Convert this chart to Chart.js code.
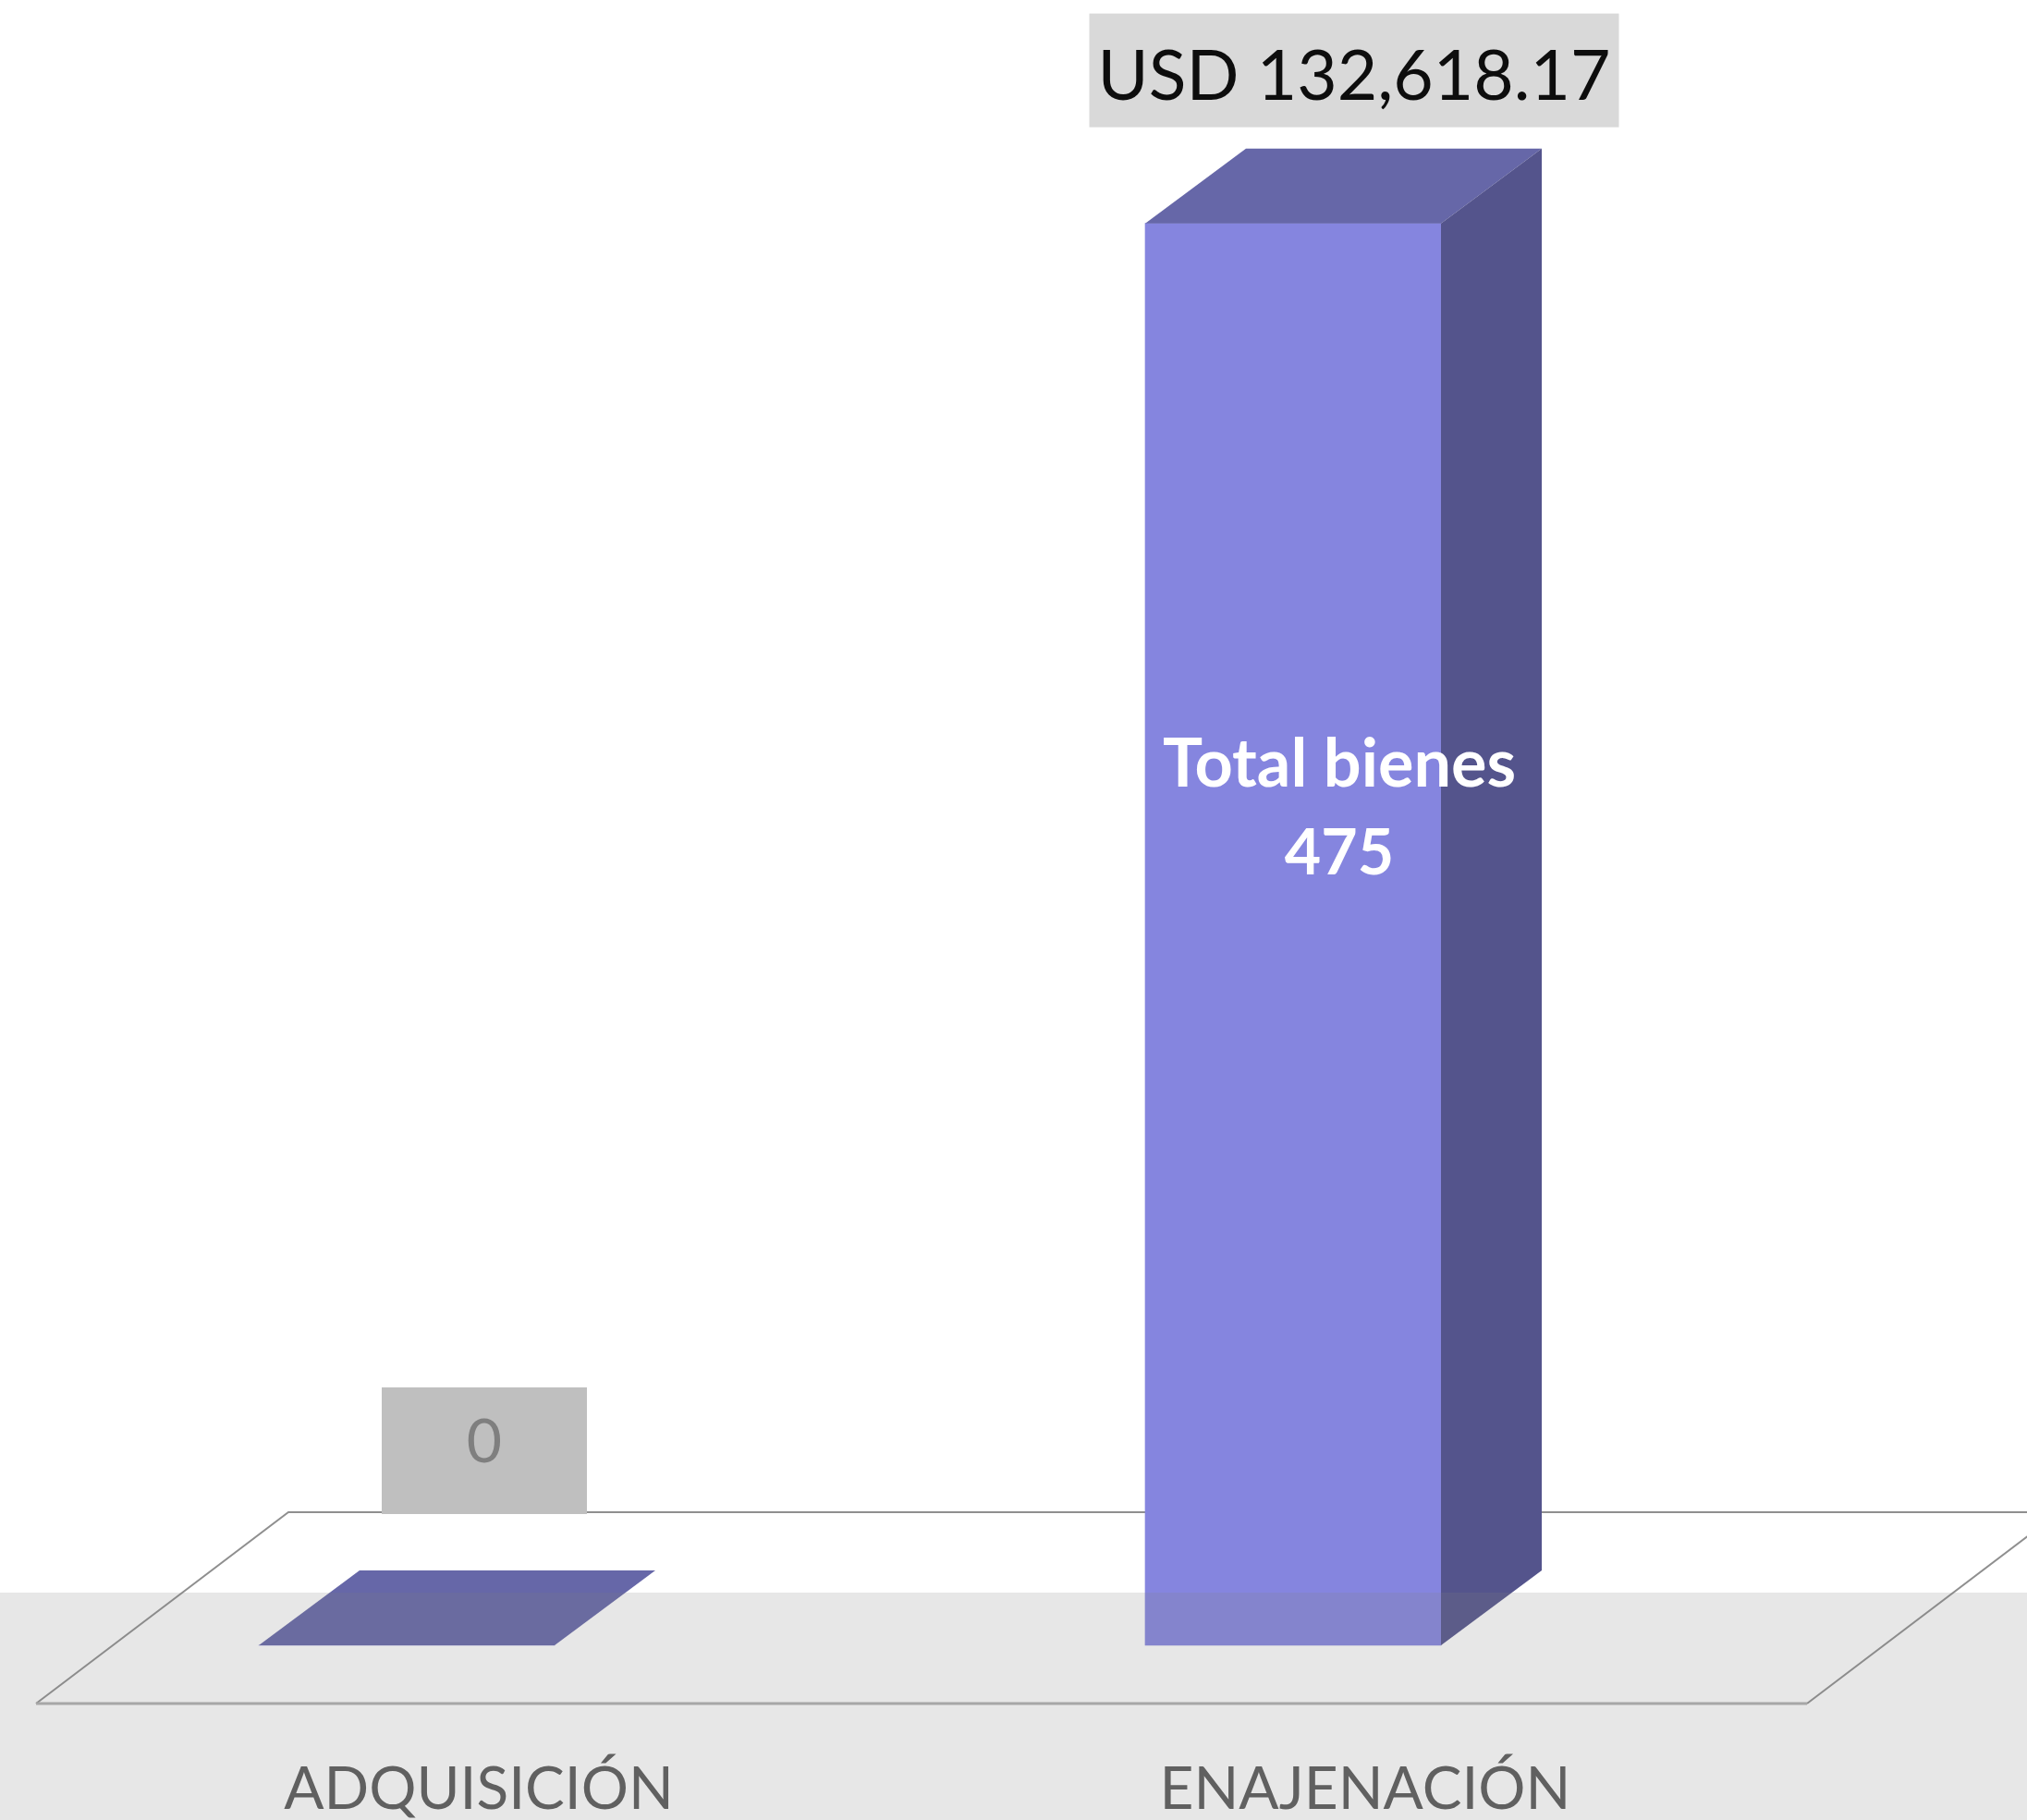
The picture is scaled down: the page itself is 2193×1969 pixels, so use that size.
<!DOCTYPE html>
<html>
<head>
<meta charset="utf-8">
<script src="https://cdn.jsdelivr.net/npm/chart.js@4.4.1/dist/chart.umd.min.js"></script>
<style>
  html, body { margin: 0; padding: 0; background: #ffffff; }
</style>
</head>
<body>
<canvas id="myChart" width="2193" height="1969"></canvas>
<script>
// categorias del eje x
var categorias = ['ADQUISICIÓN', 'ENAJENACIÓN'];
// monto en USD por tramite (altura de las barras)
var montos = [0, 132618.17];
// numero de bienes (etiqueta dentro de la barra)
var totalBienes = [0, 475];
// tope del eje y (oculto)
var yMax = 140000;

var FUENTE = 'Lato, "Open Sans", sans-serif';
var colFrente = '#8585df', colTapa = '#6667a8', colLado = '#54548c';
var prof = { dx: 109, dy: 81 }; // profundidad 3d

// cajas de las etiquetas de valor (una por barra)
var estiloEtiquetas = [
  { fondo: '#bfbfbf', color: '#7f7f7f', w: 222, h: 137, dx: 84, gap: 61, size: 66, baseline: 56 },
  { fondo: '#d9d9d9', color: '#0d0d0d', w: 573, h: 123, dx: 66, gap: 23, size: 75, baseline: 30 }
];

function textoMonto(v) {
  if (v === 0) return '0';
  return 'USD ' + v.toLocaleString('en-US', { minimumFractionDigits: 2, maximumFractionDigits: 2 });
}

function poly(ctx, pts, fill) {
  ctx.beginPath();
  ctx.moveTo(pts[0][0], pts[0][1]);
  for (var i = 1; i < pts.length; i++) ctx.lineTo(pts[i][0], pts[i][1]);
  ctx.closePath();
  ctx.fillStyle = fill;
  ctx.fill();
}

var caja3d = {
  id: 'caja3d',
  beforeDraw: function(chart) {
    var ctx = chart.ctx;
    ctx.save();
    ctx.fillStyle = '#ffffff';
    ctx.fillRect(0, 0, chart.width, chart.height);
    ctx.restore();
  },
  beforeDatasetsDraw: function(chart) {
    // piso
    var ctx = chart.ctx, x = chart.scales.x, y = chart.scales.y;
    var base = y.getPixelForValue(0);
    var x0 = x.getPixelForValue(0), x1 = x.getPixelForValue(1);
    var yF = base + 63, yB = base - 144;
    var fl = x0 - 401, fr = x1 + 556;
    var k = (fl - (x0 - 128)) / (yF - yB); // pendiente
    ctx.save();
    ctx.strokeStyle = '#8f8f8f';
    ctx.lineWidth = 2;
    ctx.beginPath();
    ctx.moveTo(fl, yF);
    ctx.lineTo(fl - k * (yF - yB), yB);
    ctx.lineTo(chart.width + 50, yB);
    ctx.moveTo(fr, yF);
    ctx.lineTo(fr - k * (yF - yB), yB);
    ctx.stroke();
    ctx.strokeStyle = '#b0b0b0';
    ctx.lineWidth = 3;
    ctx.beginPath();
    ctx.moveTo(fl, yF);
    ctx.lineTo(fr, yF);
    ctx.stroke();
    ctx.restore();
  },
  afterDatasetsDraw: function(chart) {
    var ctx = chart.ctx;
    var meta = chart.getDatasetMeta(0);
    ctx.save();
    meta.data.forEach(function(bar, i) {
      var p = bar.getProps(['x', 'y', 'base', 'width'], true);
      var l = p.x - p.width / 2, r = p.x + p.width / 2;
      // tapa
      poly(ctx, [[l, p.y], [r, p.y], [r + prof.dx, p.y - prof.dy], [l + prof.dx, p.y - prof.dy]], colTapa);
      // lado
      if (p.base - p.y > 1) {
        poly(ctx, [[r, p.y], [r + prof.dx, p.y - prof.dy], [r + prof.dx, p.base - prof.dy], [r, p.base]], colLado);
      }
      // etiqueta de valor
      var e = estiloEtiquetas[i];
      var bottom = p.y - prof.dy - e.gap;
      var cx = p.x + e.dx;
      ctx.fillStyle = e.fondo;
      ctx.fillRect(cx - e.w / 2, bottom - e.h, e.w, e.h);
      ctx.fillStyle = e.color;
      ctx.font = e.size + 'px ' + FUENTE;
      ctx.textAlign = 'center';
      ctx.textBaseline = 'alphabetic';
      ctx.fillText(textoMonto(montos[i]), cx, bottom - e.baseline);
      // total bienes dentro de la barra
      if (totalBienes[i] > 0) {
        var h = p.base - p.y;
        var ty = p.y + h * 0.396;
        ctx.fillStyle = '#ffffff';
        ctx.font = 'bold 72px ' + FUENTE;
        ctx.fillText('Total bienes', p.x + 50, ty);
        ctx.font = 'bold 68px ' + FUENTE;
        ctx.fillText(String(totalBienes[i]), p.x + 50, ty + 95);
      }
    });
    ctx.restore();
  },
  afterDraw: function(chart) {
    // franja gris inferior
    var ctx = chart.ctx;
    var base = chart.scales.y.getPixelForValue(0);
    ctx.save();
    ctx.fillStyle = 'rgba(126,126,126,0.19)';
    ctx.fillRect(0, base - 57, chart.width, chart.height);
    ctx.restore();
  }
};

var ctx = document.getElementById('myChart');
var myChart = new Chart(ctx, {
  type: 'bar',
  data: {
    labels: categorias,
    datasets: [{
      data: montos,
      backgroundColor: colFrente,
      borderWidth: 0,
      barThickness: 320,
      clip: false
    }]
  },
  options: {
    responsive: false,
    animation: false,
    layout: { padding: { top: 156, left: 440, right: 794, bottom: 0 } },
    plugins: {
      legend: { display: false },
      tooltip: { enabled: false }
    },
    scales: {
      x: {
        offset: false,
        grid: { display: false, drawTicks: false },
        border: { display: false },
        ticks: {
          padding: 118,
          labelOffset: 78,
          color: '#595959',
          font: { family: FUENTE, size: 64 },
          maxRotation: 0,
          autoSkip: false
        },
        afterFit: function(s) { s.height = 189; }
      },
      y: { display: false, min: 0, max: yMax }
    }
  },
  plugins: [caja3d]
});
</script>
</body>
</html>
